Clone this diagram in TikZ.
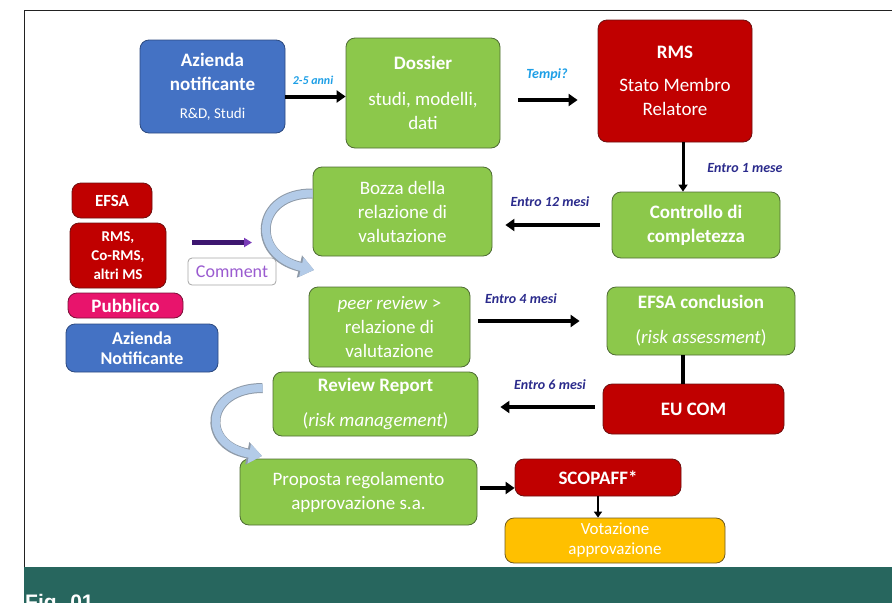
\documentclass[tikz,border=0pt]{standalone}
\usepackage{fontspec}
\setmainfont{Carlito}
\setsansfont{Liberation Sans}
\usetikzlibrary{arrows.meta}
\definecolor{Green}{HTML}{8CC84B}
\definecolor{GreenLine}{HTML}{4E6B34}
\definecolor{Red}{HTML}{C00000}
\definecolor{RedLine}{HTML}{6E1010}
\definecolor{Blue}{HTML}{4472C4}
\definecolor{BlueLine}{HTML}{2C4A80}
\definecolor{Pink}{HTML}{E8146C}
\definecolor{PinkLine}{HTML}{7A1038}
\definecolor{Yellow}{HTML}{FFC000}
\definecolor{YellowLine}{HTML}{6E5A20}
\definecolor{LightBlue}{HTML}{1E9FE6}
\definecolor{DarkBlue}{HTML}{2B2B8C}
\definecolor{Purple}{HTML}{3D1670}
\definecolor{PurpleHead}{HTML}{7A3CB8}
\definecolor{PurpleText}{HTML}{9A5BD0}
\definecolor{CurveBlue}{HTML}{B3CBE8}
\definecolor{CurveLine}{HTML}{8E9AA8}
\definecolor{Band}{HTML}{27665E}
\definecolor{FrameGray}{HTML}{222222}

\begin{document}
\begin{tikzpicture}[x=1pt,y=-1pt,
  box/.style={rounded corners=9pt,thick,align=center,inner sep=2pt,text=white,font=\fontsize{19}{24}\selectfont},
  boxgreen/.style={box,draw=GreenLine,fill=Green},
  boxred/.style={box,draw=RedLine,fill=Red},
  boxblue/.style={box,draw=BlueLine,fill=Blue},
  boxpink/.style={box,draw=PinkLine,fill=Pink},
  boxyellow/.style={box,draw=YellowLine,fill=Yellow,font=\fontsize{17}{20}\selectfont},
  boxcomment/.style={rounded corners=4pt,draw=gray!70,fill=white,thick,text=PurpleText,font=\fontsize{18}{20}\selectfont,inner sep=1pt},
  arr/.style={line width=4pt,-{Triangle[length=9pt,width=12pt]}},
  parr/.style={line width=5pt,draw=Purple,-{Triangle[length=8pt,width=9pt,color=PurpleHead]}},
  curvout/.style={line width=10pt,draw=CurveLine,-{Triangle[length=15pt,width=22pt]}},
  curvin/.style={line width=8pt,draw=CurveBlue,-{Triangle[length=13pt,width=19pt]}},
  lab/.style={font=\fontsize{14}{16}\selectfont\bfseries\itshape,inner sep=0pt}
]
\useasboundingbox (0,0) rectangle (892,603);
\clip (0,0) rectangle (892,603);
% frame and caption band
\draw[line width=1.3pt,draw=FrameGray] (892,10.5) -- (24.5,10.5) -- (24.5,567);
\fill[Band] (24,567) rectangle (892,603);
\node[font=\sffamily\bfseries\fontsize{21}{24}\selectfont,text=white,anchor=base west,inner sep=0pt] (fig) at (25,609) {Fig. 01};

% main flow
\node[boxblue,minimum width=145pt,minimum height=93pt] (az) at (212.5,86.5) {\textbf{Azienda}\\ \textbf{notificante}\\[4pt] {\fontsize{15}{18}\selectfont R\&D, Studi}};
\node[boxgreen,minimum width=154pt,minimum height=110pt] (dos) at (423,93) {\textbf{Dossier}\\[12pt] studi, modelli,\\ dati};
\node[boxred,minimum width=154pt,minimum height=122pt] (rms) at (675,81) {\textbf{RMS}\\[9pt] Stato Membro\\ Relatore};
\node[boxgreen,minimum width=168pt,minimum height=66pt] (ctrl) at (696,225) {\textbf{Controllo di}\\ \textbf{completezza}};
\node[boxgreen,minimum width=179pt,minimum height=89pt] (bozza) at (402.5,211.5) {Bozza della\\ relazione di\\ valutazione};
\node[boxgreen,minimum width=161pt,minimum height=80pt] (peer) at (389.5,327) {\textit{peer review} >\\ relazione di\\ valutazione};
\node[boxgreen,minimum width=188pt,minimum height=68pt] (efsac) at (701,321) {\textbf{EFSA conclusion}\\[11pt] (\textit{risk assessment})};
\node[boxred,minimum width=181pt,minimum height=50pt] (eucom) at (693.5,409) {\textbf{EU COM}};
\node[boxgreen,minimum width=205pt,minimum height=64pt] (review) at (375.5,404) {\textbf{Review Report}\\[11pt] (\textit{risk management})};
\node[boxgreen,minimum width=237pt,minimum height=66pt] (prop) at (358.5,492) {Proposta regolamento\\ approvazione s.a.};
\node[boxred,minimum width=166pt,minimum height=37pt] (scop) at (598,477.5) {\textbf{SCOPAFF*}};
\node[boxyellow,minimum width=220pt,minimum height=45pt] (vot) at (615,540.5) {Votazione\\ approvazione};

% left stack
\node[boxred,minimum width=80pt,minimum height=35pt,font=\fontsize{17}{20}\selectfont\bfseries] (efsa) at (112,200.5) {EFSA};
\node[boxred,minimum width=96pt,minimum height=65pt,font=\fontsize{15}{19}\selectfont\bfseries] (rmsco) at (118,255.5) {RMS,\\ Co-RMS,\\ altri MS};
\node[boxpink,minimum width=115pt,minimum height=25pt,font=\fontsize{19}{20}\selectfont\bfseries] (pubb) at (125.5,305.5) {Pubblico};
\node[boxblue,minimum width=152pt,minimum height=48pt,font=\fontsize{18}{20}\selectfont\bfseries] (aznot) at (142,348) {Azienda\\ Notificante};
\node[boxcomment,minimum width=88pt,minimum height=27pt] (comm) at (232,271.5) {Comment};

% connectors
\draw[arr] ([yshift=-10pt]az.east) -- ([yshift=-10pt]az.east -| dos.west);
\draw[arr,shorten <=18pt,shorten >=20pt] ([yshift=-7pt]dos.east) -- ([yshift=-7pt]dos.east -| rms.west);
\draw[line width=3pt,-{Triangle[length=7pt,width=9pt]}] ([xshift=8pt]rms.south) -- ([xshift=8pt]rms.south |- ctrl.north);
\draw[arr,shorten <=12pt,shorten >=13pt] (ctrl.west) -- (ctrl.west -| bozza.east);
\draw[arr,shorten <=8pt,shorten >=27pt] ([yshift=6pt]peer.east) -- ([yshift=6pt]peer.east -| efsac.west);
\draw[line width=3.5pt] ([xshift=-18pt]efsac.south) -- ([xshift=-18pt]efsac.south |- eucom.north);
\draw[arr,shorten <=8pt,shorten >=22pt] ([yshift=2pt]eucom.west) -- ([yshift=2pt]eucom.west -| review.east);
\draw[arr,shorten <=3pt] ([yshift=4pt]prop.east) -- ([yshift=4pt]prop.east -| scop.west);
\draw[line width=2.5pt,-{Triangle[length=6pt,width=8pt]}] (scop.south) -- (scop.south |- vot.north);
\coordinate (pend) at (252,242.5);
\draw[parr,shorten <=26pt] ([yshift=13pt]rmsco.east) -- (pend);
\coordinate (c1e) at (314,270);
\draw[curvout] ([yshift=18pt]bozza.west) .. controls (255,193) and (250,255) .. (c1e);
\draw[curvin] ([yshift=18pt]bozza.west) .. controls (255,193) and (250,255) .. (c1e);
\coordinate (c2e) at (262,456);
\draw[curvout,shorten <=10pt] ([yshift=16pt]review.west) .. controls (205,388) and (200,445) .. (c2e);
\draw[curvin,shorten <=10pt] ([yshift=16pt]review.west) .. controls (205,388) and (200,445) .. (c2e);

% time labels
\node[lab,text=LightBlue,font=\fontsize{12}{14}\selectfont\bfseries\itshape] (l1) at (313,80) {2-5 anni};
\node[lab,text=LightBlue] (l2) at (547,75) {Tempi?};
\node[lab,text=DarkBlue] (l3) at (745,168) {Entro 1 mese};
\node[lab,text=DarkBlue] (l4) at (550,202) {Entro 12 mesi};
\node[lab,text=DarkBlue] (l5) at (521,299) {Entro 4 mesi};
\node[lab,text=DarkBlue] (l6) at (550,385) {Entro 6 mesi};
\end{tikzpicture}
\end{document}
